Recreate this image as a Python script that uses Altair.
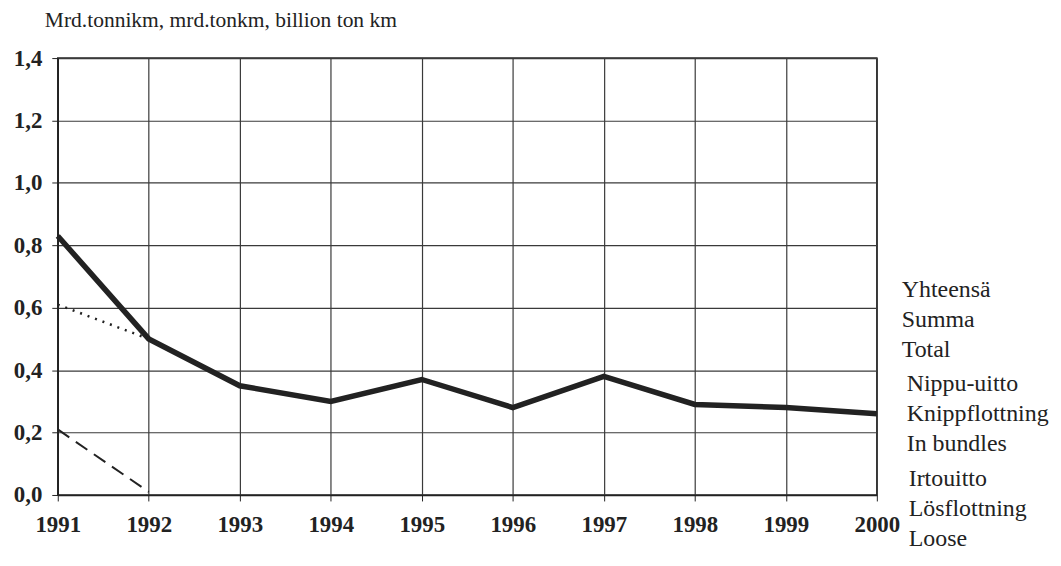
import altair as alt
import pandas as pd

years = [1991, 1992, 1993, 1994, 1995, 1996, 1997, 1998, 1999, 2000]
total = [0.83, 0.50, 0.35, 0.30, 0.37, 0.28, 0.38, 0.29, 0.28, 0.26]
bundle_years = [1991, 1992]
bundles = [0.61, 0.50]
loose_years = [1991, 1992]
loose = [0.21, 0.01]

y_title = "Mrd.tonnikm, mrd.tonkm, billion ton km"
legend_total = ["Yhteensä", "Summa", "Total"]
legend_bundles = ["Nippu-uitto", "Knippflottning", "In bundles"]
legend_loose = ["Irtouitto", "Lösflottning", "Loose"]

FONT = "Liberation Serif"
INK = "#222222"

df_total = pd.DataFrame({"year": years, "value": total})
df_bundles = pd.DataFrame({"year": bundle_years, "value": bundles})
df_loose = pd.DataFrame({"year": loose_years, "value": loose})

xs = alt.X("year:Q", scale=alt.Scale(domain=[1991, 2000], nice=False, zero=False),
           axis=alt.Axis(values=years, format="d", title=None, grid=True,
                         gridColor="#3a3a3a", gridWidth=1.2, domainColor=INK,
                         domainWidth=1.5, tickColor=INK, tickSize=6,
                         labelFont=FONT, labelFontSize=23, labelFontWeight="bold",
                         labelColor=INK, labelPadding=13, labelFlush=False,
                         labelOverlap=False))
ys = alt.Y("value:Q", scale=alt.Scale(domain=[0, 1.4], nice=False),
           axis=alt.Axis(values=[0, 0.2, 0.4, 0.6, 0.8, 1.0, 1.2, 1.4],
                         labelExpr="replace(format(datum.value, '.1f'), '.', ',')",
                         title=None, grid=True, gridColor="#3a3a3a", gridWidth=1.2,
                         domainColor=INK, domainWidth=1.5, tickColor=INK, tickSize=6,
                         labelFont=FONT, labelFontSize=23, labelFontWeight="bold",
                         labelColor=INK, labelPadding=10, labelFlush=False,
                         labelOverlap=False))

line_total = alt.Chart(df_total).mark_line(color=INK, strokeWidth=5.5).encode(x=xs, y=ys)
line_bundles = alt.Chart(df_bundles).mark_line(color=INK, strokeWidth=2.5,
                                                 strokeDash=[2, 6]).encode(x=xs, y=ys)
line_loose = alt.Chart(df_loose).mark_line(color=INK, strokeWidth=2,
                                             strokeDash=[14, 8]).encode(x=xs, y=ys)

def label_block(lines, xpos, ypos):
    return alt.Chart(pd.DataFrame({"t": ["\n".join(lines)]})).mark_text(
        align="left", baseline="middle", font=FONT, fontSize=24, color=INK,
        lineHeight=30, lineBreak="\n"
    ).encode(text="t:N", x=alt.value(xpos), y=alt.value(ypos))

title_txt = alt.Chart(pd.DataFrame({"t": [y_title]})).mark_text(
    align="left", baseline="middle", font=FONT, fontSize=21.6, color=INK
).encode(text="t:N", x=alt.value(-13), y=alt.value(-37))

chart = alt.layer(
    line_loose, line_bundles, line_total,
    title_txt,
    label_block(legend_total, 848, 233),
    label_block(legend_bundles, 853, 328),
    label_block(legend_loose, 855, 423),
).properties(
    width=823, height=439,
    padding={"left": 50, "top": 49, "right": 177, "bottom": 58},
    autosize=alt.AutoSizeParams(type="none"),
    background="white",
).configure_view(stroke=INK, strokeWidth=1.5)

chart.save("out.html", embed_options={"renderer": "svg", "actions": False})
